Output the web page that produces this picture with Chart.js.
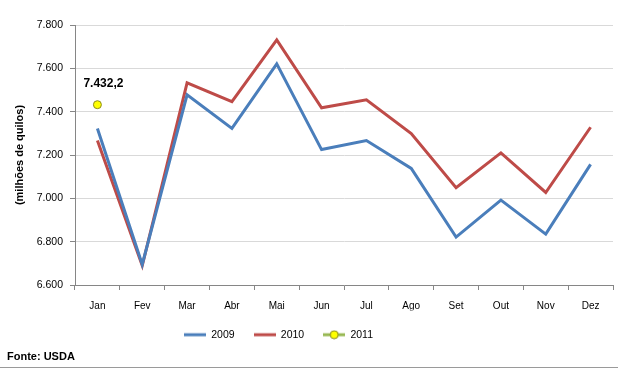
<!DOCTYPE html>
<html>
<head>
<meta charset="utf-8">
<script src="https://cdn.jsdelivr.net/npm/chart.js@4/dist/chart.umd.min.js"></script>
<style>
  html, body { margin: 0; padding: 0; background: #fff; }
  #wrap { width: 618px; height: 368px; position: relative; }
</style>
</head>
<body>
<div id="wrap"><canvas id="chart" width="618" height="368"></canvas></div>
<script>
const months = ['Jan', 'Fev', 'Mar', 'Abr', 'Mai', 'Jun', 'Jul', 'Ago', 'Set', 'Out', 'Nov', 'Dez'];
const values2009 = [7322, 6695, 7478, 7323, 7621, 7225, 7267, 7138, 6821, 6992, 6835, 7157];
const values2010 = [7267, 6690, 7533, 7446, 7731, 7418, 7455, 7299, 7049, 7210, 7027, 7328];
const values2011 = [7432.2, null, null, null, null, null, null, null, null, null, null, null];
const yTicks = [6600, 6800, 7000, 7200, 7400, 7600, 7800];

const fontName = "'Liberation Sans', Arial, sans-serif";

function fmtThousand(v, dec) {
    const parts = v.toFixed(dec).split('.');
    const intPart = parts[0].replace(/\B(?=(\d{3})+(?!\d))/g, '.');
    return parts.length > 1 ? intPart + ',' + parts[1] : intPart;
}

// small swatches for the legend
function lineSwatch(color, withDot) {
    const c = document.createElement('canvas');
    c.width = 22; c.height = 10;
    const g = c.getContext('2d');
    g.strokeStyle = color;
    g.lineWidth = 3;
    g.beginPath(); g.moveTo(0, 5); g.lineTo(22, 5); g.stroke();
    if (withDot) {
        g.fillStyle = '#ffff00';
        g.strokeStyle = '#8c8c1e';
        g.lineWidth = 1;
        g.beginPath(); g.arc(11, 5, 4, 0, Math.PI * 2); g.fill(); g.stroke();
    }
    return c;
}

const extras = {
    id: 'extras',
    afterLayout(chart) {
        // legend sits a bit left of centre in the original
        chart.legend.left -= 34;
        chart.legend.right -= 34;
    },
    afterDatasetsDraw(chart) {
        const ctx = chart.ctx;
        const meta = chart.getDatasetMeta(2);
        const pt = meta.data[0];
        ctx.save();
        ctx.font = "bold 12px " + fontName;
        ctx.fillStyle = '#000';
        ctx.textAlign = 'center';
        ctx.textBaseline = 'middle';
        ctx.fillText(fmtThousand(values2011[0], 1), pt.x + 6, pt.y - 21);
        ctx.restore();
    },
    afterDraw(chart) {
        const ctx = chart.ctx;
        ctx.save();
        ctx.font = "bold 11px " + fontName;
        ctx.fillStyle = '#000';
        ctx.textBaseline = 'middle';
        ctx.fillText('Fonte: USDA', 7, 357);
        ctx.strokeStyle = '#9a9a9a';
        ctx.lineWidth = 1;
        ctx.beginPath(); ctx.moveTo(0, 367.5); ctx.lineTo(618, 367.5); ctx.stroke();
        ctx.restore();
    }
};

Chart.defaults.font.family = fontName;
Chart.defaults.color = '#000';

new Chart(document.getElementById('chart'), {
    type: 'line',
    data: {
        labels: months,
        datasets: [{
            label: '2009',
            data: values2009,
            borderColor: '#4a7ebb',
            borderWidth: 3,
            pointRadius: 0,
            tension: 0
        }, {
            label: '2010',
            data: values2010,
            borderColor: '#be4b48',
            borderWidth: 3,
            pointRadius: 0,
            tension: 0
        }, {
            label: '2011',
            data: values2011,
            borderColor: '#98b954',
            borderWidth: 3,
            pointRadius: 4,
            pointBackgroundColor: '#ffff00',
            pointBorderColor: '#8c8c1e',
            pointBorderWidth: 1
        }]
    },
    options: {
        responsive: false,
        animation: false,
        layout: { padding: { left: 8, right: 1, top: 25, bottom: 18 } },
        plugins: {
            tooltip: { enabled: false },
            legend: {
                position: 'bottom',
                labels: {
                    usePointStyle: true,
                    pointStyleWidth: 22,
                    font: { size: 10.5 },
                    padding: 19,
                    generateLabels(chart) {
                        const swatches = [lineSwatch('#4a7ebb'), lineSwatch('#be4b48'), lineSwatch('#98b954', true)];
                        return chart.data.datasets.map((ds, i) => ({
                            text: ds.label,
                            pointStyle: swatches[i],
                            datasetIndex: i,
                            fillStyle: ds.borderColor,
                            strokeStyle: ds.borderColor,
                            lineWidth: 0,
                            fontColor: '#000'
                        }));
                    }
                }
            }
        },
        scales: {
            x: {
                offset: true,
                afterFit(scale) { scale.height = 25.5; },
                grid: {
                    offset: true,
                    drawOnChartArea: false,
                    tickLength: 5,
                    color: '#868686'
                },
                border: { color: '#868686' },
                ticks: { padding: 10, font: { size: 10 } }
            },
            y: {
                min: 6600,
                max: 7800,
                afterFit(scale) { scale.width = 67; },
                afterBuildTicks(scale) { scale.ticks = yTicks.map(v => ({ value: v })); },
                grid: { color: '#d9d9d9', tickLength: 5, tickColor: '#868686' },
                border: { color: '#868686' },
                ticks: {
                    padding: 7,
                    font: { size: 10.5 },
                    callback: v => fmtThousand(v, 0)
                },
                title: {
                    display: true,
                    text: '(milhões de quilos)',
                    font: { size: 11, weight: 'bold' },
                    padding: { top: 5, bottom: 0 }
                }
            }
        }
    },
    plugins: [extras]
});
</script>
</body>
</html>
